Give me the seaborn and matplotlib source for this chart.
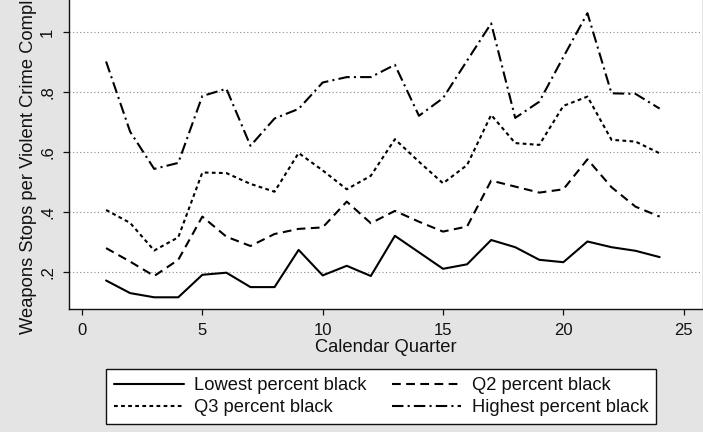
import matplotlib
matplotlib.use("Agg")
import matplotlib.pyplot as plt
import pandas as pd
import seaborn as sns

# Weapons stops per violent crime complaint, by calendar quarter and
# precinct group (percent black population quartile)
quarters = list(range(1, 25))
groups = ["Lowest percent black", "Q2 percent black",
          "Q3 percent black", "Highest percent black"]

lowest = [0.173, 0.131, 0.117, 0.117, 0.192, 0.199, 0.151, 0.151,
          0.275, 0.190, 0.222, 0.188, 0.322, 0.267, 0.212, 0.227,
          0.308, 0.284, 0.242, 0.234, 0.303, 0.284, 0.272, 0.251]
q2 = [0.281, 0.236, 0.188, 0.242, 0.386, 0.319, 0.288, 0.328,
      0.345, 0.350, 0.436, 0.364, 0.405, 0.369, 0.336, 0.353,
      0.506, 0.486, 0.466, 0.477, 0.577, 0.484, 0.419, 0.386]
q3 = [0.408, 0.365, 0.273, 0.317, 0.533, 0.531, 0.495, 0.469,
      0.598, 0.540, 0.477, 0.522, 0.644, 0.569, 0.497, 0.558,
      0.725, 0.631, 0.625, 0.755, 0.786, 0.642, 0.636, 0.597]
highest = [0.903, 0.669, 0.545, 0.565, 0.788, 0.812, 0.622, 0.713,
           0.745, 0.833, 0.851, 0.851, 0.892, 0.722, 0.781, 0.906,
           1.030, 0.715, 0.769, 0.918, 1.064, 0.797, 0.795, 0.746]

ytick_vals = [0.2, 0.4, 0.6, 0.8, 1.0]
ytick_labels = [".2", ".4", ".6", ".8", "1"]
xtick_vals = [0, 5, 10, 15, 20, 25]

frames = []
for name, vals in zip(groups, [lowest, q2, q3, highest]):
    frames.append(pd.DataFrame({"quarter": quarters, "rate": vals, "group": name}))
df = pd.concat(frames, ignore_index=True)

sns.set_theme(style="white")
plt.rcParams["font.family"] = ["Liberation Sans", "DejaVu Sans"]

W, H = 703, 432
fig = plt.figure(figsize=(W / 100, H / 100), dpi=100, facecolor="#e4e4e4")
# plot region: left edge at x=69px, bottom at y=309px, extending past the top
ax = fig.add_axes([69 / W, (H - 309) / H, 633 / W, 348 / H])
ax.set_facecolor("white")

dash_map = {
    "Lowest percent black": "",
    "Q2 percent black": (4.2, 2.6),
    "Q3 percent black": (1.8, 1.6),
    "Highest percent black": (5.5, 2.0, 1.0, 2.0),
}
sns.lineplot(data=df, x="quarter", y="rate", hue="group", style="group",
             hue_order=groups, style_order=groups,
             palette=["black"] * 4, dashes=dash_map, linewidth=1.5,
             ax=ax, legend=True)

ax.set_xlim(-0.54, 25.76)
ax.set_ylim(0.078, 1.238)
ax.set_xticks(xtick_vals)
ax.set_xticklabels([str(v) for v in xtick_vals])
ax.set_yticks(ytick_vals)
ax.set_yticklabels(ytick_labels, rotation=90, va="center")
ax.tick_params(axis="both", which="major", length=4, width=0.9,
               direction="out", labelsize=12, colors="#111111", pad=6)
ax.tick_params(axis="both", bottom=True, left=True)

ax.yaxis.grid(True, linestyle=(0, (1, 2.2)), color="#8a8a8a", linewidth=0.8)
ax.xaxis.grid(False)
for side in ["top", "right"]:
    ax.spines[side].set_visible(False)
for side in ["left", "bottom"]:
    ax.spines[side].set_color("#111111")
    ax.spines[side].set_linewidth(1.0)

ax.set_xlabel("Calendar Quarter", fontsize=13.2, color="#111111", va="top")
ax.xaxis.set_label_coords(0.5, (309 - 339) / 348)
ax.set_ylabel("Weapons Stops per Violent Crime Complaint", fontsize=13.2,
              color="#111111")
ax.yaxis.set_label_coords((37 - 69) / 633, (309 - 152) / 348)

handles, labels = ax.get_legend_handles_labels()
lookup = dict(zip(labels, handles))
order = ["Lowest percent black", "Q3 percent black",
         "Q2 percent black", "Highest percent black"]
ax.get_legend().remove()
leg = fig.legend([lookup[k] for k in order], order, ncol=2,
                 loc="center", bbox_to_anchor=(381 / W, (H - 396.5) / H),
                 fontsize=13.2, frameon=True, fancybox=False, framealpha=1,
                 edgecolor="#111111", facecolor="white",
                 handlelength=3.8, handletextpad=0.55, columnspacing=1.4,
                 labelspacing=0.28, borderpad=0.42, borderaxespad=0)
leg.get_frame().set_linewidth(1.0)
for t in leg.get_texts():
    t.set_color("#111111")

fig.savefig("out.png", dpi=100, facecolor=fig.get_facecolor())
